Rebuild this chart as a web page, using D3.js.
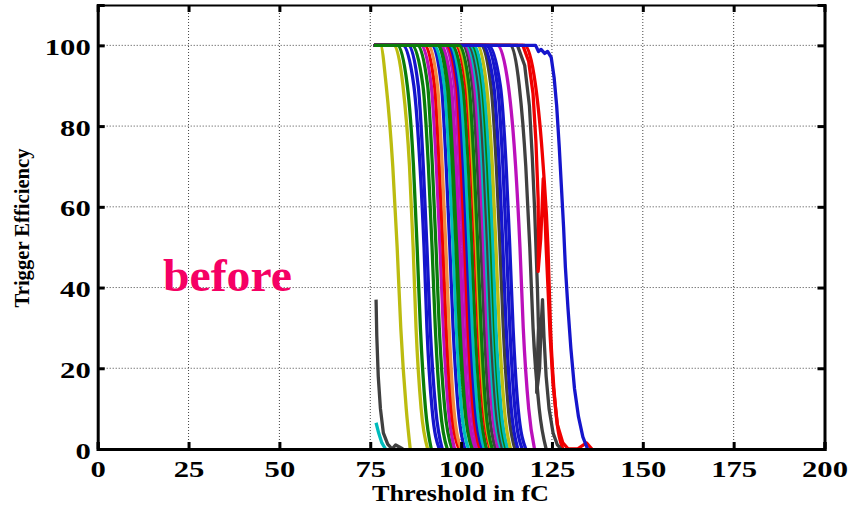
<!DOCTYPE html>
<html>
<head>
<meta charset="utf-8">
<script src="https://cdn.jsdelivr.net/npm/d3@7"></script>
<style>
  body { margin: 0; background: #fff; }
  text { font-family: "Liberation Serif", "Times New Roman", serif; font-weight: bold; }
</style>
</head>
<body>
<div id="chart"></div>
<script>
// axis ticks
const xTicks = [0, 25, 50, 75, 100, 125, 150, 175, 200];
const yTicks = [0, 20, 40, 60, 80, 100];

// every channel starts its scan here (fC)
const scanStart = 76;

// efficiency levels (%) at which the threshold of each channel was read
const effLevels = [100, 90, 70, 50, 30, 10, 0];

// threshold (fC) reached at each efficiency level, one row per channel
const channelThresholds = [
  [77.8, 79.4, 81.2, 82.4, 83.4, 84.9, 86.0],
  [81.5, 84.0, 85.8, 86.8, 87.6, 89.0, 90.8],
  [82.5, 85.2, 86.9, 87.9, 88.8, 90.2, 91.8],
  [84.0, 87.0, 88.7, 89.8, 90.6, 92.0, 94.0],
  [85.5, 88.2, 89.6, 90.6, 91.5, 93.0, 94.8],
  [86.5, 89.5, 91.0, 92.0, 92.9, 94.3, 96.2],
  [88.0, 90.8, 92.1, 93.1, 94.0, 95.5, 97.5],
  [89.0, 91.8, 93.2, 94.2, 95.1, 96.5, 98.2],
  [90.0, 92.7, 94.0, 95.0, 95.9, 97.3, 99.4],
  [91.0, 93.5, 94.8, 95.8, 96.7, 98.0, 100.0],
  [92.0, 94.6, 95.9, 96.9, 97.8, 99.2, 101.0],
  [92.5, 95.4, 96.8, 97.8, 98.7, 100.1, 102.0],
  [93.5, 96.2, 97.6, 98.6, 99.5, 101.0, 103.0],
  [94.2, 96.8, 98.2, 99.2, 100.1, 101.5, 103.4],
  [94.5, 97.3, 98.7, 99.7, 100.6, 102.0, 104.0],
  [95.5, 98.2, 99.5, 100.5, 101.4, 102.8, 104.6],
  [96.0, 98.8, 100.0, 101.0, 101.9, 103.3, 105.2],
  [96.5, 99.2, 100.6, 101.6, 102.5, 103.9, 105.8],
  [97.0, 99.8, 101.2, 102.2, 103.1, 104.5, 106.4],
  [97.5, 100.5, 102.0, 103.0, 103.9, 105.3, 107.0],
  [98.5, 101.3, 102.8, 103.8, 104.7, 106.1, 108.0],
  [99.0, 101.8, 103.2, 104.2, 105.1, 106.5, 108.3],
  [100.5, 103.1, 104.5, 105.5, 106.4, 107.7, 109.5],
  [101.0, 103.7, 105.2, 106.2, 107.1, 108.5, 110.2],
  [101.5, 104.3, 105.8, 106.8, 107.7, 109.1, 111.0],
  [102.0, 104.8, 106.3, 107.3, 108.2, 109.6, 111.4],
  [102.5, 105.4, 106.9, 107.9, 108.8, 110.2, 112.0],
  [103.0, 105.8, 107.3, 108.3, 109.2, 110.6, 112.4],
  [103.5, 106.2, 107.8, 108.8, 109.6, 111.0, 112.8],
  [104.5, 107.0, 108.6, 109.6, 110.5, 111.9, 113.6],
  [105.5, 108.2, 109.7, 110.7, 111.6, 113.0, 114.8],
  [106.0, 109.0, 110.5, 111.5, 112.4, 113.8, 115.6],
  [106.8, 110.0, 111.5, 112.5, 113.4, 114.8, 116.8],
  [107.5, 110.8, 112.4, 113.4, 114.3, 115.7, 117.8],
  [110.0, 113.0, 115.0, 116.2, 117.1, 118.6, 120.2],
  [113.6, 116.0, 117.8, 118.9, 119.8, 121.5, 123.4],
  [117.5, 120.5, 122.6, 123.9, 124.6, 126.0, 128.0],
  [99.5, 102.2, 103.6, 104.6, 105.5, 106.8, 108.6]
];
const channelColors = [
  "y", "y", "g", "b", "b", "g", "g", "m", "r", "o",
  "b", "c", "g", "g", "m", "m", "r", "b", "c", "g",
  "r", "y", "k", "m", "c", "k", "c", "g", "c", "y",
  "k", "b", "b", "b", "m", "k", "r", "g"
];

// channels with an irregular scan, read point by point [threshold fC, efficiency %]
const partialBlack = [[76.6, 37], [76.8, 28], [77.2, 18], [77.8, 10], [78.6, 4], [79.8, 1.2], [81, 0], [82, 1], [83, 0.5], [84, 0]];
const partialCyan = [[76.6, 6.5], [77.3, 4], [78.2, 1.5], [79.2, 0]];
const noisyRed = [[76, 100], [117.0, 100], [118.6, 96], [119.8, 88], [120.6, 76], [121.2, 62], [121.3, 52], [121.2, 44], [121.9, 52], [122.3, 60], [122.6, 67], [123.0, 60], [123.4, 50], [123.9, 40], [124.5, 28], [125.3, 16], [126.5, 6], [128, 1.5], [129.5, 0], [132, 0], [134.5, 1.5], [136, 0]];
const noisyGray = [[76, 100], [115.5, 100], [117.5, 95], [118.8, 85], [119.6, 72], [120.2, 60], [120.6, 50], [121.0, 40], [121.3, 30], [121.0, 22], [120.8, 14], [121.6, 20], [122.0, 30], [122.4, 37], [122.8, 28], [123.4, 18], [124.2, 10], [125.3, 4], [126.5, 1], [127.5, 0]];
const lastBlue = [[76, 100], [120.5, 100], [121.3, 98.5], [122.0, 99], [123.0, 98], [123.8, 98.5], [124.8, 97], [125.6, 92], [126.3, 85], [127.0, 75], [127.6, 65], [128.2, 55], [128.7, 45], [129.4, 35], [130.2, 25], [131.2, 15], [132.3, 8], [133.5, 3], [134.8, 0]];

const palette = {
  b: "#1515cc", g: "#0a7d0a", r: "#f00000", c: "#00bcbc",
  m: "#bb10bb", y: "#bcbc10", k: "#404040", o: "#f08a3c"
};

const W = 854, H = 509;
const x = d3.scaleLinear().domain([0, 200]).range([97.7, 824.5]);
const y = d3.scaleLinear().domain([0, 110]).range([449, 5]);

const svg = d3.select("#chart").append("svg")
    .attr("width", W)
    .attr("height", H);
svg.append("rect").attr("width", W).attr("height", H).attr("fill", "#fff");

// dotted grid
svg.append("g").selectAll("line")
  .data(xTicks.filter(d => d > 0 && d < 200))
  .join("line")
    .attr("x1", d => x(d)).attr("x2", d => x(d))
    .attr("y1", y(0)).attr("y2", y(110))
    .attr("stroke", "#444").attr("stroke-width", 1)
    .attr("stroke-dasharray", "1,2");
svg.append("g").selectAll("line")
  .data(yTicks.filter(d => d > 0))
  .join("line")
    .attr("x1", x(0)).attr("x2", x(200))
    .attr("y1", d => y(d)).attr("y2", d => y(d))
    .attr("stroke", "#444").attr("stroke-width", 1)
    .attr("stroke-dasharray", "1,2");

// build the channel curves
const smooth = d3.line().x(d => x(d[0])).y(d => y(d[1])).curve(d3.curveMonotoneX);
const straight = d3.line().x(d => x(d[0])).y(d => y(d[1]));

const channels = channelThresholds.map(function(row, i) {
  const pts = [[scanStart, 100]].concat(row.map((v, j) => [v, effLevels[j]]));
  return { pts: pts, color: palette[channelColors[i]], smooth: true };
});
const lastGreen = channels.pop();
channels.push({ pts: partialBlack, color: palette.k, smooth: false });
channels.push({ pts: partialCyan, color: palette.c, smooth: false });
channels.push({ pts: noisyGray, color: palette.k, smooth: false });
channels.push({ pts: noisyRed, color: palette.r, smooth: false });
channels.push({ pts: lastBlue, color: palette.b, smooth: false });
channels.push(lastGreen);

svg.append("g").selectAll("path")
  .data(channels)
  .join("path")
    .attr("d", d => d.smooth ? smooth(d.pts) : straight(d.pts))
    .attr("fill", "none")
    .attr("stroke", d => d.color)
    .attr("stroke-width", 3.3)
    .attr("stroke-linejoin", "round");

// axes, ticks pointing inward
const digitW = 15.3;
const gx = svg.append("g")
    .attr("transform", `translate(0,${y(0)})`)
    .call(d3.axisBottom(x).tickValues(xTicks).tickSize(-7).tickPadding(11));
const gy = svg.append("g")
    .attr("transform", `translate(${x(0)},0)`)
    .call(d3.axisLeft(y).tickValues(yTicks).tickSize(-7).tickPadding(7));
const gt = svg.append("g")
    .attr("transform", `translate(0,${y(110)})`)
    .call(d3.axisTop(x).tickValues(xTicks).tickSize(-7).tickFormat(""));
svg.append("g")
    .attr("transform", `translate(${x(200)},0)`)
    .call(d3.axisRight(y).tickValues(yTicks).tickSize(-7).tickFormat(""));

svg.selectAll(".domain").attr("stroke", "#000").attr("stroke-width", 3);
gt.select(".domain").attr("stroke-width", 2);
svg.selectAll(".tick line").attr("stroke", "#000").attr("stroke-width", 3);
[gx, gy].forEach(function(g) {
  g.selectAll("text")
    .attr("fill", "#000")
    .style("font-size", "24px")
    .attr("textLength", d => String(d).length * digitW)
    .attr("lengthAdjust", "spacingAndGlyphs");
});
gy.selectAll("text").attr("dy", "0.38em");

// axis titles
svg.append("text")
    .attr("x", 460.5).attr("y", 501)
    .attr("text-anchor", "middle")
    .style("font-size", "24px")
    .attr("textLength", 177).attr("lengthAdjust", "spacingAndGlyphs")
    .text("Threshold in fC");
svg.append("text")
    .attr("transform", "translate(29,228) rotate(-90)")
    .attr("text-anchor", "middle")
    .style("font-size", "20px")
    .attr("textLength", 159).attr("lengthAdjust", "spacingAndGlyphs")
    .text("Trigger Efficiency");

// annotation
svg.append("text")
    .attr("x", 163).attr("y", 291)
    .attr("fill", "#f50064")
    .style("font-size", "47px")
    .attr("textLength", 129).attr("lengthAdjust", "spacingAndGlyphs")
    .text("before");
</script>
</body>
</html>
